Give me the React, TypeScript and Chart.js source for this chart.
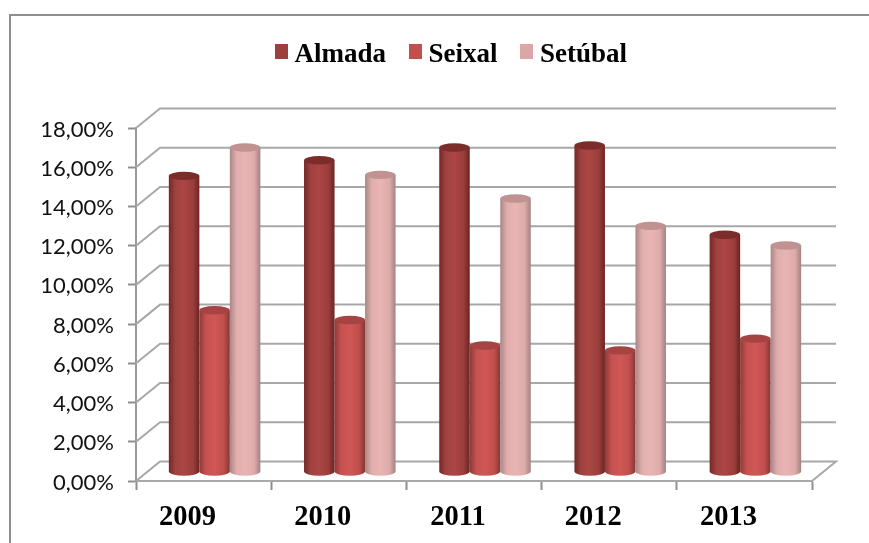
import React, { useEffect, useRef } from "react";
import { Chart, registerables } from "chart.js";

Chart.register(...registerables);

const categories = ["2009", "2010", "2011", "2012", "2013"];
const almada = [15.1, 15.9, 16.55, 16.65, 12.1];
const seixal = [8.25, 7.75, 6.45, 6.2, 6.8];
const setubal = [16.55, 15.15, 13.95, 12.55, 11.55];

const FRONT_DX = 11;
const FRONT_DY = -9;
const WALL_DX = 24;
const WALL_DY = -19.5;
const RY = 4.2;

const ramps: Record<string, { stops: string[]; top: string }> = {
  Almada: { stops: ["#742826", "#a04240", "#ab4644", "#9a3e3c", "#6a2422"], top: "#7c2d2b" },
  Seixal: { stops: ["#8e3a38", "#c65250", "#d05755", "#bf4f4d", "#863634"], top: "#a54442" },
  "Setúbal": { stops: ["#a98685", "#e0aead", "#e9b5b4", "#dcabaa", "#a38282"], top: "#c09392" },
};

const scene = {
  id: "scene",
  beforeLayout(chart: any) {
    const legend = chart.legend;
    if (legend && !legend.__wrapped) {
      legend.__wrapped = true;
      const fit = legend.fit.bind(legend);
      legend.fit = () => {
        fit();
        legend.height = 109;
      };
    }
  },
  beforeDraw(chart: any) {
    const { ctx } = chart;
    ctx.save();
    ctx.fillStyle = "#ffffff";
    ctx.fillRect(0, 0, chart.width, chart.height);
    ctx.strokeStyle = "#8f8f8f";
    ctx.lineWidth = 2;
    ctx.beginPath();
    ctx.moveTo(10, 543);
    ctx.lineTo(10, 15);
    ctx.lineTo(869, 15);
    ctx.stroke();
    ctx.restore();
  },
  beforeDatasetsDraw(chart: any) {
    const { ctx, chartArea, scales } = chart;
    const y = scales.y;
    ctx.save();
    ctx.strokeStyle = "#a8a8a8";
    ctx.lineWidth = 2;
    y.ticks.forEach((t: any) => {
      const py = y.getPixelForValue(t.value);
      ctx.beginPath();
      ctx.moveTo(chartArea.left, py);
      ctx.lineTo(chartArea.left + WALL_DX, py + WALL_DY);
      ctx.lineTo(chartArea.right + WALL_DX, py + WALL_DY);
      if (t.value === 0) ctx.lineTo(chartArea.right, py);
      ctx.stroke();
    });
    chart.data.datasets.forEach((ds: any, di: number) => {
      const ramp = ramps[ds.label];
      chart.getDatasetMeta(di).data.forEach((el: any) => {
        const half = el.width / 2;
        const cx = el.x + FRONT_DX;
        const top = el.y + FRONT_DY;
        const base = el.base + FRONT_DY;
        const g = ctx.createLinearGradient(cx - half, 0, cx + half, 0);
        [0, 0.22, 0.5, 0.8, 1].forEach((p, i) => g.addColorStop(p, ramp.stops[i]));
        ctx.fillStyle = g;
        ctx.beginPath();
        ctx.moveTo(cx - half, top);
        ctx.lineTo(cx - half, base);
        ctx.ellipse(cx, base, half, RY, 0, Math.PI, 0, true);
        ctx.lineTo(cx + half, top);
        ctx.closePath();
        ctx.fill();
        ctx.fillStyle = ramp.top;
        ctx.beginPath();
        ctx.ellipse(cx, top, half, RY, 0, 0, Math.PI * 2);
        ctx.fill();
      });
    });
    ctx.restore();
    return false;
  },
  afterDraw(chart: any) {
    const { ctx, legend } = chart;
    ctx.save();
    legend.legendHitBoxes.forEach((box: any, i: number) => {
      ctx.fillStyle = chart.data.datasets[i].backgroundColor;
      ctx.fillRect(Math.round(box.left), 44, 13, 15);
    });
    ctx.restore();
  },
};

export default function App() {
  const ref = useRef<HTMLCanvasElement>(null);
  useEffect(() => {
    const chart = new Chart(ref.current as HTMLCanvasElement, {
      type: "bar",
      data: {
        labels: categories,
        datasets: [
          { label: "Almada", data: almada, backgroundColor: "#9d3f3d" },
          { label: "Seixal", data: seixal, backgroundColor: "#c0504d" },
          { label: "Setúbal", data: setubal, backgroundColor: "#dba7a6" },
        ],
      },
      options: {
        responsive: false,
        animation: false,
        layout: { padding: { left: 90, right: 57, top: 19, bottom: 0 } },
        datasets: { bar: { categoryPercentage: 0.677, barPercentage: 1 } },
        scales: {
          x: {
            afterFit: (s: any) => {
              s.height = 62;
            },
            border: { color: "#a8a8a8", width: 2 },
            grid: { drawOnChartArea: false, tickLength: 9, tickColor: "#8f8f8f", tickWidth: 2, offset: true },
            ticks: {
              labelOffset: -16,
              padding: 11,
              color: "#000000",
              font: { family: "'Liberation Serif'", size: 28.5, weight: "bold" },
              maxRotation: 0,
            },
          },
          y: {
            min: 0,
            max: 18,
            afterFit: (s: any) => {
              s.width = 46;
              s._computeLabelArea = () => undefined;
            },
            border: { color: "#9a9a9a", width: 2 },
            grid: { drawOnChartArea: false, tickLength: 8, tickColor: "#8f8f8f", tickWidth: 2 },
            ticks: {
              stepSize: 2,
              padding: 14,
              labelOffset: 1.5,
              color: "#111111",
              font: { family: "Lato", size: 22 },
              callback: (v: any) => Number(v).toFixed(2).replace(".", ",") + "%",
            },
          },
        },
        plugins: {
          tooltip: { enabled: false },
          legend: {
            position: "top",
            labels: {
              boxWidth: 6,
              boxHeight: 15,
              padding: 23,
              color: "#000000",
              font: { family: "'Liberation Serif'", size: 27, weight: "bold" },
              generateLabels: (c: any) =>
                Chart.defaults.plugins.legend.labels.generateLabels(c).map((l: any) => ({
                  ...l,
                  fillStyle: "rgba(0,0,0,0)",
                  strokeStyle: "rgba(0,0,0,0)",
                  lineWidth: 0,
                })),
            },
          },
        },
      } as any,
      plugins: [scene],
    });
    return () => chart.destroy();
  }, []);
  return (
    <div style={{ position: "absolute", left: 0, top: 0 }}>
      <canvas ref={ref} width={869} height={543} style={{ display: "block" }} />
    </div>
  );
}
